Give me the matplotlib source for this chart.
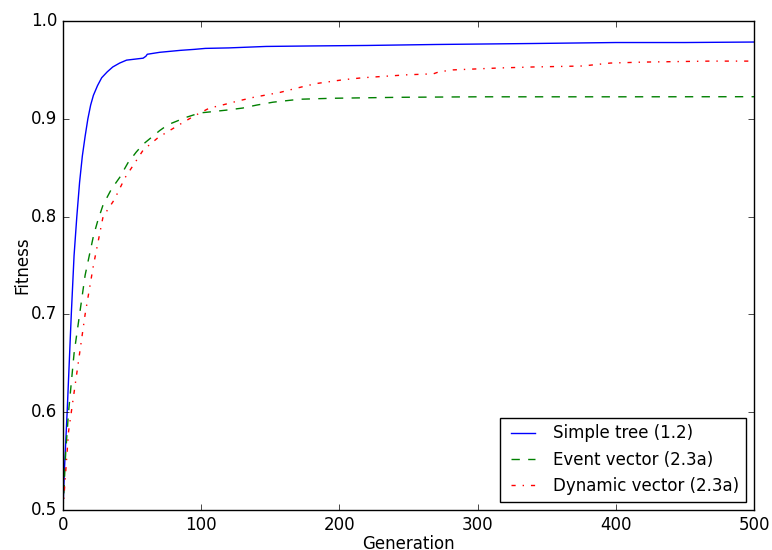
import matplotlib
matplotlib.use("Agg")
import matplotlib.pyplot as plt

plt.style.use("classic")

# Simple tree (1.2)
gen_tree = [0, 1, 3, 6, 8, 10, 12, 14, 16, 18, 20, 22, 25, 28, 32, 36, 41, 46, 52, 58, 60,
            61, 70, 85, 95, 103, 120, 147, 180, 220, 270, 340, 400, 450, 500]
fit_tree = [0.500, 0.540, 0.600, 0.700, 0.760, 0.800, 0.835, 0.862, 0.882, 0.900, 0.914,
            0.924, 0.934, 0.942, 0.948, 0.953, 0.957, 0.960, 0.961, 0.962, 0.964,
            0.966, 0.968, 0.970, 0.971, 0.972, 0.9725, 0.974, 0.9745, 0.975, 0.976,
            0.977, 0.978, 0.978, 0.9785]

# Event vector (2.3a)
gen_event = [0, 2, 4, 8, 12, 16, 19, 22, 25, 29, 35, 41, 47, 53, 58, 64, 70, 76, 83,
             88, 99, 106, 119, 130, 140, 152, 171, 195, 244, 300, 400, 500]
fit_event = [0.500, 0.560, 0.600, 0.660, 0.700, 0.740, 0.760, 0.780, 0.795, 0.812,
             0.828, 0.840, 0.855, 0.866, 0.874, 0.881, 0.888, 0.894, 0.898,
             0.901, 0.906, 0.907, 0.909, 0.911, 0.914, 0.917, 0.920, 0.921, 0.922,
             0.9225, 0.9225, 0.9226]

# Dynamic vector (2.3a)
gen_dyn = [0, 2, 4, 6, 11, 16, 22, 29, 37, 45, 52, 58, 69, 83, 95, 106, 115, 126,
           138, 157, 171, 183, 203, 217, 249, 268, 272, 282, 316, 340, 376, 396,
           420, 468, 500]
fit_dyn = [0.500, 0.540, 0.580, 0.600, 0.650, 0.700, 0.750, 0.800, 0.817, 0.840,
           0.855, 0.868, 0.881, 0.893, 0.903, 0.911, 0.914, 0.918, 0.922, 0.927,
           0.932, 0.936, 0.940, 0.942, 0.945, 0.946, 0.948, 0.950, 0.952, 0.953,
           0.954, 0.957, 0.958, 0.959, 0.959]

fig = plt.figure(figsize=(7.72, 5.5), dpi=100, facecolor="white")
ax = fig.add_axes([0.0816, 0.0727, 0.8951, 0.8891])

ax.plot(gen_tree, fit_tree, "b-", label="Simple tree (1.2)")
ax.plot(gen_event, fit_event, "g--", label="Event vector (2.3a)")
ax.plot(gen_dyn, fit_dyn, "r-.", label="Dynamic vector (2.3a)")

ax.set_xlim(0, 500)
ax.set_ylim(0.5, 1.0)
ax.set_xticks([0, 100, 200, 300, 400, 500])
ax.set_yticks([0.5, 0.6, 0.7, 0.8, 0.9, 1.0])
ax.set_xlabel("Generation", labelpad=1)
ax.set_ylabel("Fitness", labelpad=0)
ax.legend(loc="lower right", fontsize=12)

fig.savefig("out.png", dpi=100, facecolor="white")
